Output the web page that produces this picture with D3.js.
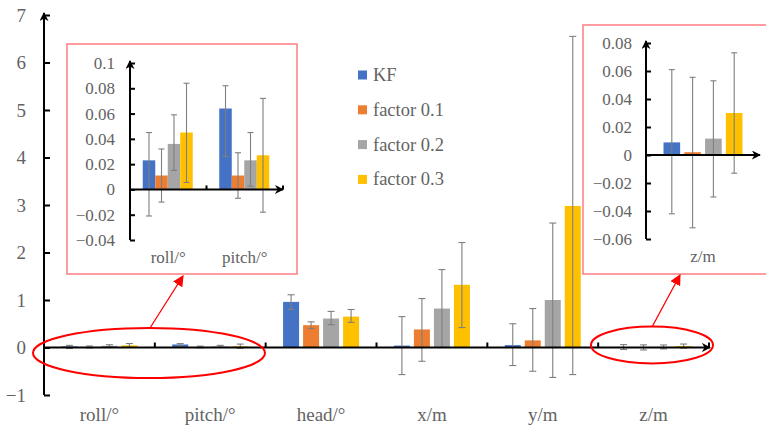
<!DOCTYPE html>
<html><head><meta charset="utf-8">
<script src="https://cdn.jsdelivr.net/npm/d3@7"></script>
<style>
html,body{margin:0;padding:0;background:#fff;}
svg{display:block;}
svg text{font-family:"Liberation Serif","Times New Roman",serif;}
</style></head>
<body>
<svg id="c" width="766" height="428" font-family="Liberation Serif, serif"></svg>
<script>
// ---------- data ----------
const categories = ["roll/°", "pitch/°", "head/°", "x/m", "y/m", "z/m"];
const seriesNames = ["KF", "factor 0.1", "factor 0.2", "factor 0.3"];
const seriesColors = ["#4472C4", "#ED7D31", "#A5A5A5", "#FFC000"];

const kfValues   = [0.023, 0.064, 0.96, 0.04, 0.05, 0.009];
const kfErrLow   = [-0.021, 0.026, 0.80, -0.57, -0.38, -0.042];
const kfErrHigh  = [0.045, 0.082, 1.11, 0.65, 0.50, 0.061];

const f1Values   = [0.011, 0.011, 0.47, 0.38, 0.15, 0.002];
const f1ErrLow   = [-0.010, -0.007, 0.40, -0.29, -0.50, -0.052];
const f1ErrHigh  = [0.032, 0.029, 0.54, 1.03, 0.82, 0.0555];

const f2Values   = [0.036, 0.023, 0.61, 0.82, 1.00, 0.0117];
const f2ErrLow   = [0.015, 0.0026, 0.48, 0.0, -0.63, -0.030];
const f2ErrHigh  = [0.059, 0.045, 0.76, 1.64, 2.62, 0.053];

const f3Values   = [0.045, 0.027, 0.65, 1.32, 2.98, 0.030];
const f3ErrLow   = [0.0055, -0.018, 0.53, 0.42, -0.57, -0.013];
const f3ErrHigh  = [0.084, 0.072, 0.80, 2.21, 6.55, 0.073];

const mainTicks  = [-1, 0, 1, 2, 3, 4, 5, 6, 7];
const insetATicks = [-0.04, -0.02, 0, 0.02, 0.04, 0.06, 0.08, 0.1];
const insetBTicks = [-0.06, -0.04, -0.02, 0, 0.02, 0.04, 0.06, 0.08];

// ---------- build ----------
const SERIF = '"Liberation Serif", "Times New Roman", serif';
const TEXT = "#636363";
const allValues = [kfValues, f1Values, f2Values, f3Values];
const allLow = [kfErrLow, f1ErrLow, f2ErrLow, f3ErrLow];
const allHigh = [kfErrHigh, f1ErrHigh, f2ErrHigh, f3ErrHigh];

const rows = [];
categories.forEach((c, ci) => {
  seriesNames.forEach((s, si) => {
    rows.push({cat: c, ser: s, si, v: allValues[si][ci], lo: allLow[si][ci], hi: allHigh[si][ci]});
  });
});

const svg = d3.select("#c");
const defs = svg.append("defs");
defs.append("marker").attr("id", "axArrow").attr("viewBox", "0 0 10 10")
  .attr("refX", 9).attr("refY", 5).attr("markerWidth", 9).attr("markerHeight", 9)
  .attr("markerUnits", "userSpaceOnUse").attr("orient", "auto")
  .append("path").attr("d", "M0,0 L10,5 L0,10 L3,5 Z").attr("fill", "#000");
defs.append("marker").attr("id", "redArrow").attr("viewBox", "0 0 10 10")
  .attr("refX", 9).attr("refY", 5).attr("markerWidth", 11).attr("markerHeight", 11)
  .attr("markerUnits", "userSpaceOnUse").attr("orient", "auto")
  .append("path").attr("d", "M0,0 L10,5 L0,10 Z").attr("fill", "#FF0000");

function drawChart(g, opt) {
  const cats = opt.cats;
  const y = d3.scaleLinear().domain(opt.yDomain).range(opt.yRange);
  const x = d3.scaleBand().domain(cats).range(opt.xRange).padding(0);
  const inner = d3.scaleBand().domain(seriesNames)
    .range([0, opt.groupW]).paddingInner(opt.barGap).paddingOuter(0);
  const off = (x.bandwidth() - opt.groupW) / 2 + opt.shift;
  const data = rows.filter(r => cats.includes(r.cat));

  // bars
  g.append("g").selectAll("rect").data(data).join("rect")
    .attr("x", d => x(d.cat) + off + inner(d.ser))
    .attr("width", inner.bandwidth())
    .attr("y", d => Math.min(y(d.v), y(0)))
    .attr("height", d => Math.abs(y(d.v) - y(0)))
    .attr("fill", d => seriesColors[d.si]);

  // error bars
  const eg = g.append("g").attr("stroke", "#7F7F7F").attr("stroke-width", 1.1).attr("fill", "none");
  data.forEach(d => {
    const cx = x(d.cat) + off + inner(d.ser) + inner.bandwidth() / 2;
    eg.append("line").attr("x1", cx).attr("x2", cx).attr("y1", y(d.lo)).attr("y2", y(d.hi));
    [d.lo, d.hi].forEach(v => {
      eg.append("line").attr("x1", cx - opt.cap).attr("x2", cx + opt.cap).attr("y1", y(v)).attr("y2", y(v));
    });
  });

  // y axis
  const ya = g.append("g").attr("transform", `translate(${opt.xRange[0]},0)`)
    .call(d3.axisLeft(y).tickValues(opt.ticks).tickFormat(d3.format("~g"))
      .tickSizeInner(-opt.tickLen).tickSizeOuter(0).tickPadding(opt.labelPad));
  ya.attr("font-family", SERIF).attr("font-size", opt.fs);
  ya.select(".domain").remove();
  ya.selectAll(".tick line").attr("stroke", "#000").attr("stroke-width", 2);
  ya.selectAll(".tick text").attr("fill", TEXT);
  g.append("line").attr("x1", opt.xRange[0]).attr("x2", opt.xRange[0])
    .attr("y1", y(opt.yDomain[0])).attr("y2", y(opt.yDomain[1]) - 2)
    .attr("stroke", "#000").attr("stroke-width", 2).attr("marker-end", "url(#axArrow)");

  // x axis
  g.append("line").attr("x1", opt.xRange[0]).attr("x2", opt.xRange[1] + opt.arrowExt)
    .attr("y1", y(0)).attr("y2", y(0))
    .attr("stroke", "#000").attr("stroke-width", 2).attr("marker-end", "url(#axArrow)");
  cats.forEach(c => {
    const bx = x(c) + x.bandwidth();
    g.append("line").attr("x1", bx).attr("x2", bx).attr("y1", y(0)).attr("y2", y(0) - opt.sepLen)
      .attr("stroke", "#000").attr("stroke-width", 2);
  });
  // category labels
  const xa = g.append("g").attr("transform", `translate(0,${opt.labelY})`)
    .call(d3.axisBottom(x).tickSize(0).tickPadding(0));
  xa.attr("font-family", SERIF).attr("font-size", opt.fsX);
  xa.select(".domain").remove();
  xa.selectAll(".tick text").attr("fill", TEXT).attr("dy", 0);
}

// main chart
drawChart(svg.append("g"), {
  cats: categories, yDomain: [-1, 7], yRange: [395, 15], xRange: [44, 709],
  groupW: 76, barGap: 0.2, shift: 0, cap: 3.5, ticks: mainTicks,
  tickLen: 6, labelPad: 18, fs: 19, fsX: 19, labelY: 421, sepLen: 5, arrowExt: 1
});

// inset boxes
svg.append("rect").attr("x", 67).attr("y", 44).attr("width", 230).attr("height", 230)
  .attr("fill", "#fff").attr("stroke", "#FF7C80").attr("stroke-width", 1.5);
svg.append("rect").attr("x", 583).attr("y", 25).attr("width", 190).attr("height", 249)
  .attr("fill", "#fff").attr("stroke", "#FF7C80").attr("stroke-width", 1.5);

drawChart(svg.append("g"), {
  cats: ["roll/°", "pitch/°"], yDomain: [-0.04, 0.1], yRange: [240, 63], xRange: [130, 283],
  groupW: 50, barGap: 0, shift: -0.5, cap: 3, ticks: insetATicks,
  tickLen: 5, labelPad: 15, fs: 17, fsX: 17, labelY: 263, sepLen: 4, arrowExt: 0
});
drawChart(svg.append("g"), {
  cats: ["z/m"], yDomain: [-0.06, 0.08], yRange: [239, 43], xRange: [646, 760],
  groupW: 79, barGap: 0.2, shift: 0, cap: 3, ticks: insetBTicks,
  tickLen: 5, labelPad: 14, fs: 17, fsX: 17, labelY: 262, sepLen: 0, arrowExt: 0
});

// legend
const lg = svg.append("g").attr("font-family", SERIF).attr("font-size", 18.5);
seriesNames.forEach((s, i) => {
  const yy = 75 + i * 34.8;
  lg.append("rect").attr("x", 358).attr("y", yy - 4.5).attr("width", 9).attr("height", 9)
    .attr("fill", seriesColors[i]);
  lg.append("text").attr("x", 373).attr("y", yy + 6).attr("fill", TEXT).text(s);
});

// ellipses and pointers
svg.append("ellipse").attr("cx", 149).attr("cy", 353).attr("rx", 116).attr("ry", 25)
  .attr("fill", "none").attr("stroke", "#FF0000").attr("stroke-width", 2);
svg.append("ellipse").attr("cx", 652).attr("cy", 345).attr("rx", 61).attr("ry", 18.5)
  .attr("fill", "none").attr("stroke", "#FF0000").attr("stroke-width", 2);
svg.append("line").attr("x1", 150).attr("y1", 328).attr("x2", 183).attr("y2", 276)
  .attr("stroke", "#FF0000").attr("stroke-width", 1.3).attr("marker-end", "url(#redArrow)");
svg.append("line").attr("x1", 652).attr("y1", 327).attr("x2", 680).attr("y2", 275)
  .attr("stroke", "#FF0000").attr("stroke-width", 1.3).attr("marker-end", "url(#redArrow)");
</script>
</body></html>
